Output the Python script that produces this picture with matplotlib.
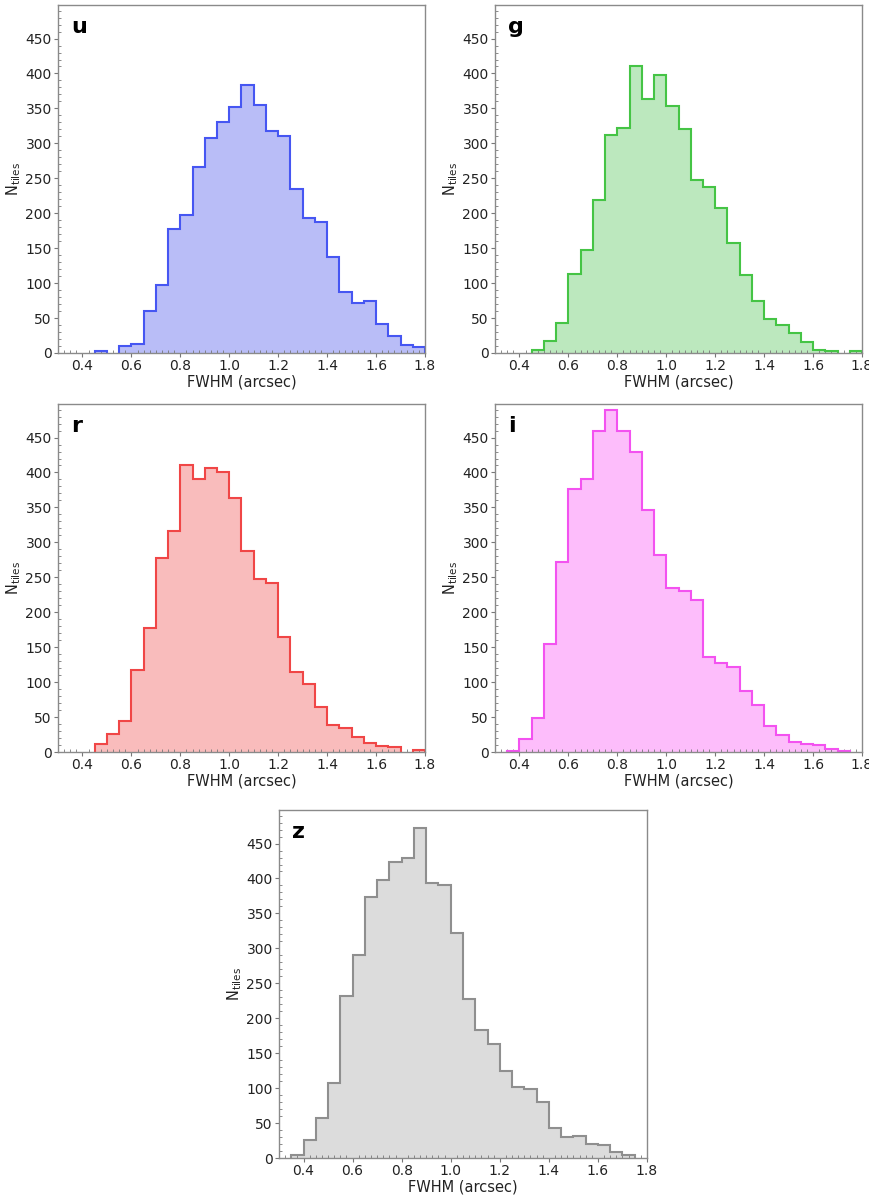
import matplotlib
matplotlib.use('Agg')
import matplotlib.pyplot as plt
from matplotlib.ticker import MultipleLocator
import numpy as np

# bin edges of FWHM (arcsec), 0.05 wide
bin_edges = np.round(np.arange(0.30, 1.8001, 0.05), 3)

# N_tiles per bin (bins 0.30-0.35 ... 1.75-1.80)
counts_u = [0, 0, 0, 3, 0, 10, 13, 60, 97, 177, 197, 266, 307, 331, 352, 383,
            355, 317, 311, 234, 193, 187, 138, 87, 72, 74, 42, 25, 12, 8]
counts_g = [0, 0, 0, 4, 17, 43, 113, 147, 219, 312, 322, 411, 363, 398, 353, 320,
            247, 237, 208, 157, 111, 74, 48, 40, 28, 16, 5, 3, 0, 3]
counts_r = [0, 0, 0, 11, 26, 44, 118, 177, 278, 316, 411, 390, 406, 400, 364, 288,
            247, 242, 165, 115, 98, 64, 39, 35, 22, 13, 8, 7, 0, 3]
counts_i = [0, 2, 18, 48, 154, 272, 376, 390, 460, 490, 460, 430, 347, 282, 235, 230,
            217, 136, 127, 122, 88, 67, 37, 24, 15, 12, 10, 4, 2, 0]
counts_z = [0, 4, 26, 57, 107, 232, 290, 373, 398, 423, 430, 472, 393, 391, 322, 228,
            183, 163, 124, 101, 99, 80, 43, 30, 32, 20, 18, 9, 5, 0]

bands = ['u', 'g', 'r', 'i', 'z']
all_counts = [counts_u, counts_g, counts_r, counts_i, counts_z]
fill_colors = ['#b9bdf7', '#bce8be', '#f9bcbc', '#fdbdfb', '#dcdcdc']
edge_colors = ['#4656f2', '#45c445', '#f04646', '#f352f0', '#8f8f8f']

# axes rectangles [left, bottom, width, height] in figure fraction
W, H = 870.0, 1198.0
boxes = [
    [58 / W, (H - 353) / H, 367 / W, 348 / H],
    [495 / W, (H - 353) / H, 367 / W, 348 / H],
    [58 / W, (H - 752) / H, 367 / W, 348 / H],
    [495 / W, (H - 752) / H, 367 / W, 348 / H],
    [279 / W, (H - 1158) / H, 368 / W, 348 / H],
]

xlabel = 'FWHM (arcsec)'
ylabel = r'N$_{\rm tiles}$'

fig = plt.figure(figsize=(8.7, 11.98), dpi=100)

for band, counts, fc, ec, box in zip(bands, all_counts, fill_colors, edge_colors, boxes):
    ax = fig.add_axes(box)
    counts = np.array(counts)

    ax.stairs(counts, bin_edges, fill=True, color=fc, linewidth=0, zorder=1)

    # outline only over runs of non-empty bins (no line along zero)
    nz = counts > 0
    i = 0
    n = len(counts)
    while i < n:
        if nz[i]:
            j = i
            while j < n and nz[j]:
                j += 1
            ax.stairs(counts[i:j], bin_edges[i:j + 1], fill=False,
                      edgecolor=ec, linewidth=1.5, zorder=2)
            i = j
        else:
            i += 1

    ax.set_xlim(0.3, 1.8)
    ax.set_ylim(0, 498)
    ax.xaxis.set_major_locator(MultipleLocator(0.2))
    ax.xaxis.set_minor_locator(MultipleLocator(0.025))
    ax.yaxis.set_major_locator(MultipleLocator(50))
    ax.yaxis.set_minor_locator(MultipleLocator(10))
    ax.xaxis.set_major_formatter(plt.FuncFormatter(lambda v, p: f'{v:.1f}'))

    ax.tick_params(which='major', direction='out', length=3, width=0.8,
                   color='#777777', labelsize=10, labelcolor='#222222', pad=1.5)
    ax.tick_params(which='minor', direction='in', length=2, width=0.6, color='#777777')
    ax.tick_params(top=False, right=False)

    for s in ax.spines.values():
        s.set_color('#8a8a8a')
        s.set_linewidth(1.0)
        s.set_zorder(3)

    ax.set_xlabel(xlabel, fontsize=10.5, color='#222222', labelpad=1)
    ax.set_ylabel(ylabel, fontsize=10.5, color='#222222', labelpad=2)

    ax.text(0.035, 0.965, band, transform=ax.transAxes, fontsize=16,
            fontweight='heavy', va='top', ha='left', color='black')

plt.savefig('out.png', dpi=100)
